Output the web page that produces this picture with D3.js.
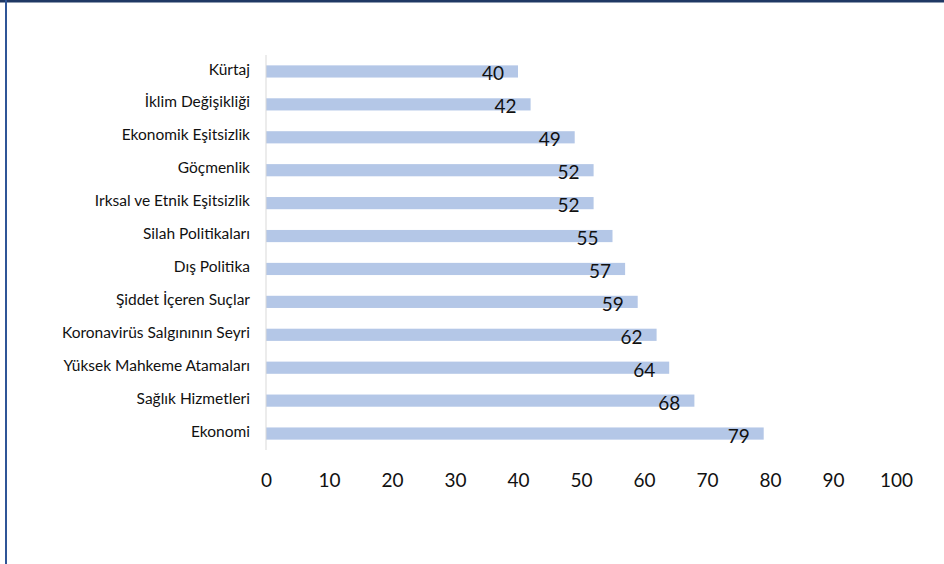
<!DOCTYPE html>
<html>
<head>
<meta charset="utf-8">
<script src="https://cdn.jsdelivr.net/npm/d3@7"></script>
<style>
 body{margin:0;background:#fff;}
 text{font-family:Lato,"Open Sans",sans-serif;fill:#111;}
</style>
</head>
<body>
<svg id="chart" width="944" height="564"></svg>
<script>
// data
var topics=["Kürtaj","İklim Değişikliği","Ekonomik Eşitsizlik","Göçmenlik","Irksal ve Etnik Eşitsizlik","Silah Politikaları","Dış Politika","Şiddet İçeren Suçlar","Koronavirüs Salgınının Seyri","Yüksek Mahkeme Atamaları","Sağlık Hizmetleri","Ekonomi"];
var scores=[40,42,49,52,52,55,57,59,62,64,68,79];
var ticks=[0,10,20,30,40,50,60,70,80,90,100];

var svg=d3.select("#chart");

// frame
svg.append("rect").attr("x",0).attr("y",0).attr("width",944).attr("height",2.5).attr("fill","#1f3864");
svg.append("rect").attr("x",5).attr("y",0).attr("width",2).attr("height",564).attr("fill","#2f5597");

var x=d3.scaleLinear().domain([0,100]).range([266,896]);
var y=d3.scaleBand().domain(topics).range([55,450]).paddingInner(0.63).paddingOuter(0.315);

// bars
svg.selectAll("rect.bar").data(topics).enter().append("rect")
 .attr("class","bar")
 .attr("x",x(0))
 .attr("y",function(d){return y(d);})
 .attr("width",function(d,i){return x(scores[i])-x(0);})
 .attr("height",y.bandwidth())
 .attr("fill","#b4c7e7");

// value labels
svg.selectAll("text.val").data(topics).enter().append("text")
 .attr("class","val")
 .attr("x",function(d,i){return x(scores[i])-14;})
 .attr("y",function(d){return y(d)+y.bandwidth()/2+9;})
 .attr("text-anchor","end")
 .style("font-size","19px")
 .text(function(d,i){return scores[i];});

// category axis
var ya=svg.append("g").attr("transform","translate("+x(0)+",0)")
 .call(d3.axisLeft(y).tickSize(0).tickPadding(16));
ya.select(".domain").attr("stroke","#d9d9d9").attr("d","M0,55V450");
ya.selectAll("text").style("font-size","15.5px").attr("dy","0.2em").style("fill","#111");

// value axis (labels only)
var xa=svg.append("g").attr("transform","translate(0,480)")
 .call(d3.axisBottom(x).tickValues(ticks).tickSize(0).tickPadding(0));
xa.select(".domain").remove();
xa.selectAll("text").style("font-size","19px").attr("dy","0.35em").style("fill","#111");
</script>
</body>
</html>
